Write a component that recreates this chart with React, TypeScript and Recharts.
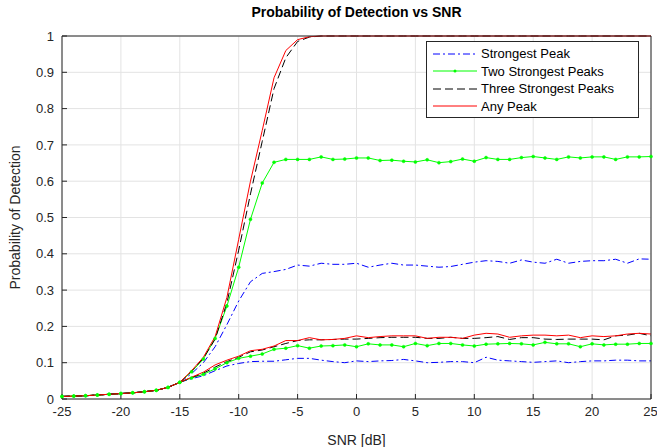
import React from "react";
import { LineChart, Line, XAxis, YAxis, CartesianGrid } from "recharts";

const snr = [
  -25, -24, -23, -22, -21, -20, -19, -18, -17, -16, -15, -14, -13, -12, -11, -10, -9, -8, -7, -6, -5, -4, -3, -2, -1, 0,
  1, 2, 3, 4, 5, 6, 7, 8, 9, 10, 11, 12, 13, 14, 15, 16, 17, 18, 19, 20, 21, 22, 23, 24, 25,
];

// low-SNR part shared by every curve (-25 .. -15 dB)
const lowTail = [0.007, 0.008, 0.009, 0.011, 0.013, 0.015, 0.017, 0.02, 0.024, 0.032, 0.046];

// upper family
const strongestHi = [...lowTail,
  0.07, 0.1, 0.144, 0.205, 0.27, 0.323, 0.346, 0.351, 0.357, 0.369, 0.366, 0.374, 0.371, 0.371, 0.374,
  0.363, 0.369, 0.374, 0.369, 0.369, 0.366, 0.363, 0.365, 0.371, 0.377, 0.381, 0.379, 0.374, 0.383, 0.377,
  0.374, 0.385, 0.374, 0.379, 0.381, 0.381, 0.385, 0.374, 0.386, 0.385];
const twoHi = [...lowTail,
  0.075, 0.11, 0.167, 0.256, 0.363, 0.495, 0.595, 0.652, 0.66, 0.66, 0.66, 0.667, 0.66, 0.661, 0.664,
  0.664, 0.657, 0.658, 0.655, 0.653, 0.659, 0.651, 0.654, 0.661, 0.655, 0.665, 0.66, 0.66, 0.665, 0.668,
  0.664, 0.66, 0.667, 0.664, 0.667, 0.667, 0.66, 0.667, 0.667, 0.668];
const threeHi = [...lowTail,
  0.077, 0.112, 0.165, 0.265, 0.41, 0.565, 0.71, 0.855, 0.94, 0.985, 0.997, 1, 1, 1, 1,
  1, 1, 1, 1, 1, 1, 1, 1, 1, 1, 1, 1, 1, 1, 1,
  1, 1, 1, 1, 1, 1, 1, 1, 1, 1];
const anyHi = [...lowTail,
  0.078, 0.115, 0.172, 0.28, 0.44, 0.6, 0.74, 0.885, 0.96, 0.99, 0.998, 1, 1, 1, 1,
  1, 1, 1, 1, 1, 1, 1, 1, 1, 1, 1, 1, 1, 1, 1,
  1, 1, 1, 1, 1, 1, 1, 1, 1, 1];

// lower family
const strongestLo = [...lowTail,
  0.056, 0.064, 0.078, 0.091, 0.098, 0.103, 0.104, 0.104, 0.108, 0.112, 0.112, 0.107, 0.103, 0.1, 0.105,
  0.103, 0.105, 0.106, 0.109, 0.105, 0.1, 0.101, 0.103, 0.103, 0.1, 0.115, 0.107, 0.105, 0.103, 0.101,
  0.103, 0.105, 0.1, 0.103, 0.105, 0.105, 0.107, 0.107, 0.105, 0.105];
const twoLo = [...lowTail,
  0.058, 0.068, 0.083, 0.1, 0.112, 0.118, 0.124, 0.137, 0.14, 0.147, 0.14, 0.146, 0.147, 0.149, 0.144,
  0.152, 0.149, 0.149, 0.144, 0.153, 0.147, 0.153, 0.153, 0.149, 0.146, 0.151, 0.152, 0.153, 0.152, 0.149,
  0.156, 0.152, 0.152, 0.144, 0.152, 0.149, 0.151, 0.151, 0.153, 0.153];
const threeLo = [...lowTail,
  0.059, 0.071, 0.088, 0.103, 0.115, 0.13, 0.135, 0.144, 0.153, 0.161, 0.163, 0.163, 0.164, 0.165, 0.165,
  0.167, 0.169, 0.17, 0.17, 0.17, 0.167, 0.167, 0.17, 0.167, 0.167, 0.169, 0.172, 0.164, 0.169, 0.169,
  0.165, 0.164, 0.165, 0.165, 0.165, 0.163, 0.174, 0.176, 0.181, 0.174];
const anyLo = [...lowTail,
  0.06, 0.074, 0.094, 0.107, 0.118, 0.133, 0.137, 0.146, 0.161, 0.161, 0.169, 0.163, 0.164, 0.167, 0.174,
  0.169, 0.172, 0.174, 0.174, 0.174, 0.167, 0.17, 0.17, 0.167, 0.176, 0.181, 0.179, 0.17, 0.174, 0.176,
  0.176, 0.174, 0.176, 0.169, 0.174, 0.172, 0.174, 0.179, 0.181, 0.179];

const xTicks = [-25, -20, -15, -10, -5, 0, 5, 10, 15, 20, 25];
const yTicks = [0, 0.1, 0.2, 0.3, 0.4, 0.5, 0.6, 0.7, 0.8, 0.9, 1];
const legendNames = ["Strongest Peak", "Two Strongest Peaks", "Three Strongest Peaks", "Any Peak"];

const data = snr.map((x, i) => ({
  x,
  s1: strongestHi[i],
  s2: twoHi[i],
  s3: threeHi[i],
  s4: anyHi[i],
  l1: strongestLo[i],
  l2: twoLo[i],
  l3: threeLo[i],
  l4: anyLo[i],
}));

const BLUE = "#0000ff";
const GREEN = "#00ff00";
const BLACK = "#000000";
const RED = "#ff0000";
const AXIS = "#262626";
const FONT = "'Liberation Sans', Arial, Helvetica, sans-serif";

const styles = [
  { color: BLUE, dash: "7 3 2 3", dot: false as const },
  { color: GREEN, dash: undefined, dot: true },
  { color: BLACK, dash: "8 4", dot: false as const },
  { color: RED, dash: undefined, dot: false as const },
];

const tickStyle = { fontSize: 13, fill: AXIS, fontFamily: FONT };

function Legend() {
  return (
    <div
      style={{
        position: "absolute",
        left: 426,
        top: 41,
        width: 211,
        height: 72,
        border: `1px solid ${AXIS}`,
        background: "#fff",
        fontFamily: FONT,
        fontSize: 13,
        color: "#000",
        padding: "3px 0 0 0",
      }}
    >
      {legendNames.map((name, i) => (
        <div key={name} style={{ display: "flex", alignItems: "center", height: 17.5 }}>
          <svg width={50} height={10} style={{ marginLeft: 5 }}>
            <line x1={1} y1={5} x2={45} y2={5} stroke={styles[i].color} strokeWidth={1} strokeDasharray={styles[i].dash} />
            {styles[i].dot && <circle cx={23} cy={5} r={1.5} fill={GREEN} />}
          </svg>
          <span style={{ marginLeft: -1, lineHeight: "15px" }}>{name}</span>
        </div>
      ))}
    </div>
  );
}

export default function App() {
  const keysHi = ["s1", "s2", "s3", "s4"];
  const keysLo = ["l1", "l2", "l3", "l4"];
  return (
    <div style={{ position: "absolute", left: 0, top: 0, width: 657, height: 447, background: "#fff" }}>
      <div
        style={{
          position: "absolute",
          left: 62,
          width: 589,
          top: 4,
          textAlign: "center",
          fontFamily: FONT,
          fontWeight: "bold",
          fontSize: 14,
          color: "#000",
        }}
      >
        Probability of Detection vs SNR
      </div>
      <LineChart width={657} height={447} data={data} margin={{ top: 0, right: 0, bottom: 0, left: 0 }}>
        <CartesianGrid stroke="#e3e3e3" strokeWidth={1} />
        <XAxis
          dataKey="x"
          type="number"
          domain={[-25, 25]}
          ticks={xTicks}
          height={48}
          stroke={AXIS}
          tickSize={-5}
          tickMargin={13}
          tick={tickStyle}
          label={{ value: "SNR [dB]", position: "insideBottom", offset: 2, style: { fontSize: 14, fill: AXIS, fontFamily: FONT } }}
        />
        <XAxis
          xAxisId="top"
          dataKey="x"
          type="number"
          orientation="top"
          domain={[-25, 25]}
          ticks={xTicks}
          height={36}
          stroke={AXIS}
          tickSize={-5}
          tick={false}
        />
        <YAxis
          type="number"
          domain={[0, 1]}
          ticks={yTicks}
          width={62}
          stroke={AXIS}
          tickSize={-5}
          tickMargin={13}
          tick={tickStyle}
          tickFormatter={(v: number) => String(v)}
          label={{ value: "Probability of Detection", angle: -90, position: "insideLeft", offset: 15, style: { textAnchor: "middle", fontSize: 14, fill: AXIS, fontFamily: FONT } }}
        />
        <YAxis
          yAxisId="right"
          type="number"
          orientation="right"
          domain={[0, 1]}
          ticks={yTicks}
          width={6}
          stroke={AXIS}
          tickSize={-5}
          tick={false}
        />
        {[keysHi, keysLo].map((keys) =>
          keys.map((k, i) => (
            <Line
              key={k}
              dataKey={k}
              type="linear"
              stroke={styles[i].color}
              strokeWidth={1}
              strokeDasharray={styles[i].dash}
              dot={styles[i].dot ? { r: 1.5, fill: GREEN, stroke: GREEN, strokeWidth: 0.5 } : false}
              activeDot={false}
              isAnimationActive={false}
            />
          ))
        )}
      </LineChart>
      <Legend />
    </div>
  );
}
